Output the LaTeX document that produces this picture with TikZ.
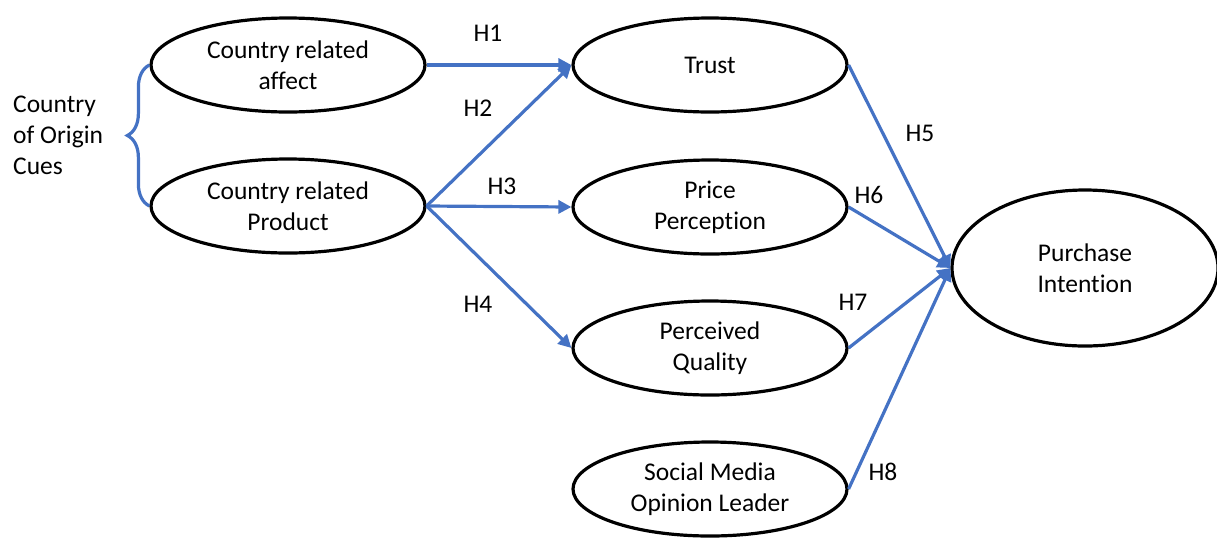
\documentclass[tikz,border=0pt]{standalone}
\usepackage{fontspec}
\setmainfont{Carlito}[Ligatures={NoCommon}]
\usepackage{tikz}
\usetikzlibrary{arrows.meta}
\usetikzlibrary{shapes.geometric}
\usetikzlibrary{decorations.pathreplacing}

\definecolor{pathblue}{HTML}{4472C4}

\tikzset{
    construct/.style={ellipse, draw=black, line width=3.2pt, minimum width=274pt, minimum height=94pt,
        inner sep=0pt, align=center, font=\fontsize{25.5}{31}\selectfont},
    path/.style={draw=pathblue, line width=3.2pt, -{Triangle[length=13pt,width=13pt]}},
    hyp/.style={font=\fontsize{25.5}{30}\selectfont}
}

\begin{document}
\begin{tikzpicture}[x=1pt, y=-1pt]
        % Fix the page size
        \useasboundingbox (0,0) rectangle (1217,542);

        % Draw the constructs
        \node[construct] (affect) at (288,65) {Country related\\affect};
        \node[construct] (product) at (288,206) {Country related\\Product};
        \node[construct] (trust) at (710,65) {Trust};
        \node[construct] (price) at (710,207) {Price\\Perception};
        \node[construct] (quality) at (710,348) {Perceived\\Quality};
        \node[construct] (social) at (710,489) {Social Media\\Opinion Leader};
        \node[construct, minimum width=266pt, minimum height=156pt] (intention) at (1085,268) {Purchase\\Intention};

        % Draw the brace grouping the country of origin cues
        \draw[pathblue, line width=3.2pt, decorate, decoration={brace, amplitude=22pt}]
            (product.west) -- (affect.west);
        \node[align=left, anchor=west, inner sep=0pt, font=\fontsize{25.5}{31}\selectfont] (cues) at (13,135) {Country\\of Origin\\Cues};

        % Draw the hypothesised paths
        \draw[path] (affect.east) -- (trust.west);
        \draw[path] (product.east) -- (trust.west);
        \draw[path] (product.east) -- (price.west);
        \draw[path] (product.east) -- (quality.west);
        \draw[path] (trust.east) -- (intention.west);
        \draw[path] (price.east) -- (intention.west);
        \draw[path] (quality.east) -- (intention.west);
        \draw[path] (social.east) -- (intention.west);

        % Draw the path labels
        \node[hyp] (h1) at (488,33) {H1};
        \node[hyp] (h2) at (478,108) {H2};
        \node[hyp] (h3) at (502,186) {H3};
        \node[hyp] (h4) at (478,304) {H4};
        \node[hyp] (h5) at (920,133) {H5};
        \node[hyp] (h6) at (869,195) {H6};
        \node[hyp] (h7) at (853,302) {H7};
        \node[hyp] (h8) at (883,472) {H8};
    \end{tikzpicture}
\end{document}
